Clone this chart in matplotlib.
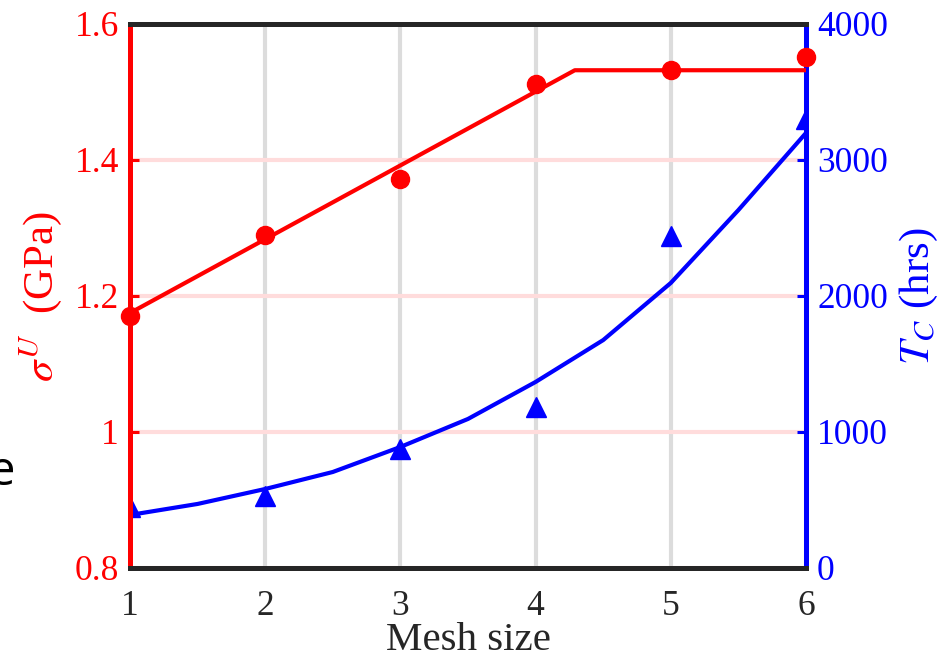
import matplotlib
matplotlib.use("Agg")
import matplotlib.pyplot as plt

# ---- data ----
mesh_size = [1, 2, 3, 4, 5, 6]
sigma_u = [1.17, 1.29, 1.372, 1.512, 1.532, 1.551]        # GPa (red dots)
t_c = [449, 529, 875, 1184, 2441, 3301]                     # hrs (blue triangles)

sigma_fit_x = [1, 4.29, 6]
sigma_fit_y = [1.175, 1.532, 1.532]

tc_fit_x = [1, 1.5, 2, 2.5, 3, 3.5, 4, 4.5, 5, 5.5, 6]
tc_fit_y = [390, 471, 581, 706, 890, 1096, 1368, 1676, 2096, 2632, 3199]

x_ticks = [1, 2, 3, 4, 5, 6]
left_ticks = [0.8, 1.0, 1.2, 1.4, 1.6]
left_ticklabels = ["0.8", "1", "1.2", "1.4", "1.6"]
right_ticks = [0, 1000, 2000, 3000, 4000]
right_ticklabels = ["0", "1000", "2000", "3000", "4000"]

RED = "#ff0000"
BLUE = "#0000ff"
DARK = "#262626"

plt.rcParams["font.family"] = ["Liberation Serif", "DejaVu Serif"]
plt.rcParams["mathtext.fontset"] = "stix"

fig = plt.figure(figsize=(9.51, 6.61), dpi=100)
ax = fig.add_axes([130 / 951, 1 - 568 / 661, 676 / 951, 544 / 661])
ax2 = ax.twinx()

# grid on bottom axes
ax.set_xlim(1, 6)
ax.set_ylim(0.8, 1.6)
ax.set_xticks(x_ticks)
ax.set_yticks(left_ticks)
ax.set_yticklabels(left_ticklabels)
ax.xaxis.grid(True, color="#dcdcdc", lw=3)
ax.yaxis.grid(True, color="#ffdcdc", lw=3)
ax.set_axisbelow(True)
ax.tick_params(axis="y", colors=RED, direction="in", length=6.5, width=2.2,
               labelsize=25.5, pad=8)
ax.tick_params(axis="x", colors=DARK, direction="in", length=0, width=2,
               labelsize=25.5, pad=16, labelcolor=DARK)
for s in ax.spines.values():
    s.set_visible(False)

# twin axes: blue data, spines, red data on top
ax2.set_ylim(0, 4000)
ax2.set_yticks(right_ticks)
ax2.set_yticklabels(right_ticklabels)
ax2.tick_params(axis="y", colors=BLUE, direction="in", length=6.5, width=2.2,
                labelsize=25.5, pad=8)
ax2.spines["left"].set_color(RED)
ax2.spines["right"].set_color(BLUE)
ax2.spines["top"].set_color(DARK)
ax2.spines["bottom"].set_color(DARK)
for s in ax2.spines.values():
    s.set_linewidth(3.6)

ax2.plot(tc_fit_x, tc_fit_y, color=BLUE, lw=3, zorder=2)
ax2.plot(mesh_size, t_c, linestyle="none", marker="^", ms=14, color=BLUE,
         zorder=2, clip_on=True)

ax2.plot(sigma_fit_x, sigma_fit_y, color=RED, lw=3, transform=ax.transData,
         zorder=4)
ax2.plot(mesh_size, sigma_u, linestyle="none", marker="o", ms=13, color=RED,
         transform=ax.transData, zorder=5, clip_on=False)

ax.set_xlabel("Mesh size", fontsize=29.5, color=DARK, labelpad=-1)
ax.set_ylabel(r"$\sigma^U\ $ (GPa)", fontsize=31, color=RED)
ax.yaxis.set_label_coords(-0.097, 0.5)
ax2.set_ylabel(r"$T_C$ (hrs)", fontsize=31, color=BLUE)
ax2.yaxis.set_label_coords(1.136, 0.5)

# stray cropped character at left edge of the original image
fig.text(-0.012, 1 - 472 / 661, "e", fontsize=34, family="Open Sans",
         color="black", va="center", ha="left")

fig.savefig("out.png", dpi=100)
